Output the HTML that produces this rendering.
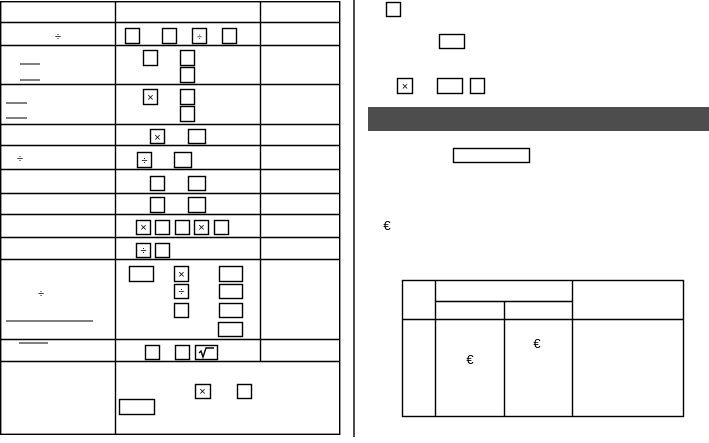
<!DOCTYPE html>
<html><head><meta charset="utf-8"><style>
html,body{margin:0;padding:0;background:#fff;}
svg{display:block;font-family:"Liberation Sans",sans-serif;}
</style></head><body>
<svg width="709" height="443" viewBox="0 0 709 443" xmlns="http://www.w3.org/2000/svg">
<g stroke="#000" stroke-width="1.4" fill="none">
<rect x="0.7" y="1.7" width="339" height="432.6"/>
<line x1="115.5" y1="2" x2="115.5" y2="434"/>
<line x1="260.5" y1="2" x2="260.5" y2="361"/>
<line x1="0" y1="22.5" x2="340" y2="22.5"/>
<line x1="0" y1="45.5" x2="340" y2="45.5"/>
<line x1="0" y1="84.5" x2="340" y2="84.5"/>
<line x1="0" y1="124.5" x2="340" y2="124.5"/>
<line x1="0" y1="145.5" x2="340" y2="145.5"/>
<line x1="0" y1="169.5" x2="340" y2="169.5"/>
<line x1="0" y1="193.5" x2="340" y2="193.5"/>
<line x1="0" y1="214.5" x2="340" y2="214.5"/>
<line x1="0" y1="237.5" x2="340" y2="237.5"/>
<line x1="0" y1="259.5" x2="340" y2="259.5"/>
<line x1="0" y1="339.5" x2="340" y2="339.5"/>
<line x1="0" y1="361.5" x2="340" y2="361.5"/>
<line x1="354" y1="0" x2="354" y2="437"/>
<line x1="20" y1="64" x2="40" y2="64" stroke-width="1"/>
<line x1="20" y1="80" x2="40" y2="80" stroke-width="1"/>
<line x1="6" y1="103" x2="27" y2="103" stroke-width="1"/>
<line x1="6" y1="118" x2="27" y2="118" stroke-width="1"/>
<line x1="6" y1="321" x2="93" y2="321" stroke-width="1"/>
<line x1="19" y1="343" x2="48" y2="343" stroke-width="1"/>
<rect x="125.5" y="28.5" width="14" height="15"/>
<rect x="162.5" y="28.5" width="14" height="15"/>
<rect x="192.5" y="28.5" width="14" height="15"/>
<rect x="222.5" y="28.5" width="14" height="15"/>
<rect x="143.5" y="50.5" width="14" height="15"/>
<rect x="180.5" y="50.5" width="14" height="15"/>
<rect x="180.5" y="67.5" width="14" height="15"/>
<rect x="143.5" y="89.5" width="14" height="15"/>
<rect x="180.5" y="89.5" width="14" height="15"/>
<rect x="180.5" y="106.5" width="14" height="15"/>
<rect x="150.5" y="129.5" width="14" height="14"/>
<rect x="188.5" y="129.5" width="17" height="14"/>
<rect x="137.5" y="152.5" width="14" height="15"/>
<rect x="174.5" y="152.5" width="17" height="15"/>
<rect x="150.5" y="176.5" width="14" height="14"/>
<rect x="188.5" y="176.5" width="17" height="14"/>
<rect x="150.5" y="197.5" width="14" height="15"/>
<rect x="188.5" y="197.5" width="17" height="15"/>
<rect x="136.5" y="220.5" width="14" height="14"/>
<rect x="155.5" y="220.5" width="14" height="14"/>
<rect x="175.5" y="220.5" width="14" height="14"/>
<rect x="194.5" y="220.5" width="14" height="14"/>
<rect x="214.5" y="220.5" width="14" height="14"/>
<rect x="136.5" y="243.5" width="14" height="14"/>
<rect x="155.5" y="243.5" width="14" height="14"/>
<rect x="129.5" y="266.5" width="24" height="15"/>
<rect x="174.5" y="266.5" width="14" height="15"/>
<rect x="219.5" y="266.5" width="23" height="15"/>
<rect x="174.5" y="284.5" width="14" height="14"/>
<rect x="219.5" y="284.5" width="23" height="14"/>
<rect x="174.5" y="303.5" width="14" height="14"/>
<rect x="219.5" y="303.5" width="23" height="14"/>
<rect x="218.5" y="322.5" width="24" height="14"/>
<rect x="145.5" y="345.5" width="14" height="14"/>
<rect x="175.5" y="345.5" width="14" height="14"/>
<rect x="195.5" y="345.5" width="22" height="14"/>
<rect x="195.5" y="384.5" width="15" height="14"/>
<rect x="237.5" y="384.5" width="14" height="14"/>
<rect x="119.5" y="399.5" width="35" height="15"/>
<rect x="386.5" y="2.5" width="14" height="14"/>
<rect x="439.5" y="34.5" width="25" height="14"/>
<rect x="397.5" y="78.5" width="15" height="15"/>
<rect x="437.5" y="78.5" width="25" height="15"/>
<rect x="470.5" y="78.5" width="14" height="15"/>
<rect x="453.5" y="148.5" width="76" height="14"/>
<rect x="402.5" y="280.5" width="281" height="136"/>
<line x1="435.5" y1="280" x2="435.5" y2="417"/>
<line x1="504.5" y1="301" x2="504.5" y2="417"/>
<line x1="572.5" y1="280" x2="572.5" y2="417"/>
<line x1="435" y1="301.5" x2="572" y2="301.5"/>
<line x1="402" y1="319.5" x2="684" y2="319.5"/>
</g>
<rect x="368" y="107" width="341" height="24" fill="#4d4d4d"/>
<path d="M199 353 L201 351 L203 357 L206 348 L214 348" stroke="#000" stroke-width="1.4" fill="none"/>
<g font-size="11" text-anchor="middle" fill="#000">
<text x="58" y="40">÷</text>
<text x="20" y="162">÷</text>
<text x="41" y="297">÷</text>
<text x="199.5" y="40" font-size="9">÷</text>
<text x="144.5" y="164">÷</text>
<text x="143.5" y="254">÷</text>
<text x="181.5" y="295">÷</text>
<text x="150.5" y="101">×</text>
<text x="157.5" y="141">×</text>
<text x="143.5" y="231">×</text>
<text x="201.5" y="231">×</text>
<text x="181.5" y="278">×</text>
<text x="202.5" y="395">×</text>
<text x="405" y="90">×</text>
<text x="387" y="230" font-size="13">€</text>
<text x="470" y="364" font-size="13">€</text>
<text x="537" y="348" font-size="13">€</text>
</g>
</svg>
</body></html>
